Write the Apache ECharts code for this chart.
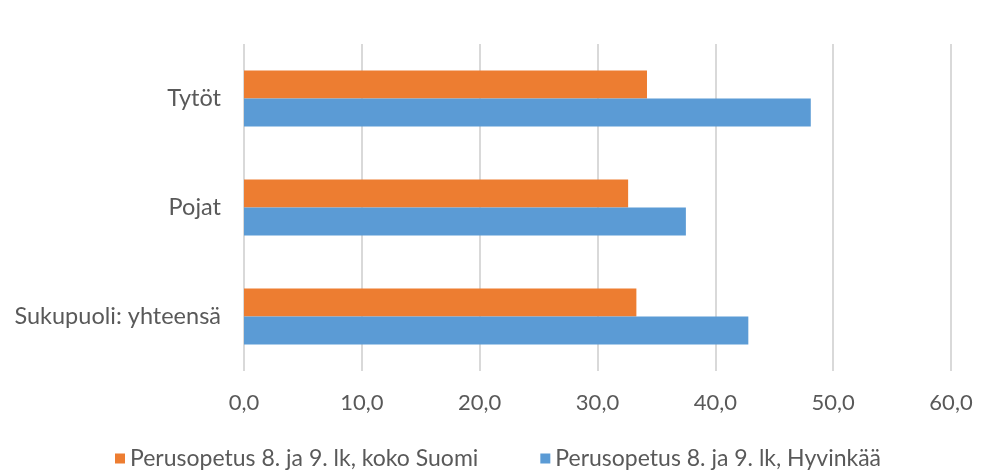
<!DOCTYPE html>
<html><head><meta charset="utf-8">
<script src="https://cdn.jsdelivr.net/npm/echarts@6/dist/echarts.min.js"></script>
<style>html,body{margin:0;padding:0;background:#fff}#c{width:996px;height:472px}</style>
</head><body><div id="c"></div>
<script>
var categories = ['Sukupuoli: yhteensä', 'Pojat', 'Tytöt'];
var seriesNames = ['Perusopetus 8. ja 9. lk, koko Suomi', 'Perusopetus 8. ja 9. lk, Hyvinkää'];
var suomiValues = [33.3, 32.6, 34.2];
var hyvinkaaValues = [42.8, 37.5, 48.1];
var xTicks = [0, 10, 20, 30, 40, 50, 60];

var font = 'Lato';
var chart = echarts.init(document.getElementById('c'));
chart.setOption({
  animation: false,
  textStyle: {fontFamily: font},
  grid: {left: 244, right: 45, top: 44, bottom: 101},
  legend: {
    bottom: -3, left: 'center', itemWidth: 10, itemHeight: 10, itemGap: 62,
    icon: 'rect',
    textStyle: {fontFamily: font, fontSize: 23, color: '#595959'},
    data: seriesNames
  },
  xAxis: {
    type: 'value', min: xTicks[0], max: xTicks[xTicks.length - 1], interval: 10,
    axisLine: {show: false}, axisTick: {show: false},
    splitLine: {lineStyle: {color: '#D9D9D9', width: 2}},
    axisLabel: {fontFamily: font, fontSize: 22, color: '#595959', margin: 21,
      formatter: function (v) { return v.toFixed(1).replace('.', ','); }}
  },
  yAxis: {
    type: 'category', data: categories,
    axisLine: {show: false}, axisTick: {show: false},
    axisLabel: {fontFamily: font, fontSize: 23.5, color: '#595959', margin: 23}
  },
  series: [
    {name: seriesNames[0], type: 'bar', data: suomiValues, barWidth: 28, barGap: '0%',
      itemStyle: {color: '#ED7D31'}},
    {name: seriesNames[1], type: 'bar', data: hyvinkaaValues, barWidth: 28, barGap: '0%',
      itemStyle: {color: '#5B9BD5'}}
  ]
});
</script></body></html>
